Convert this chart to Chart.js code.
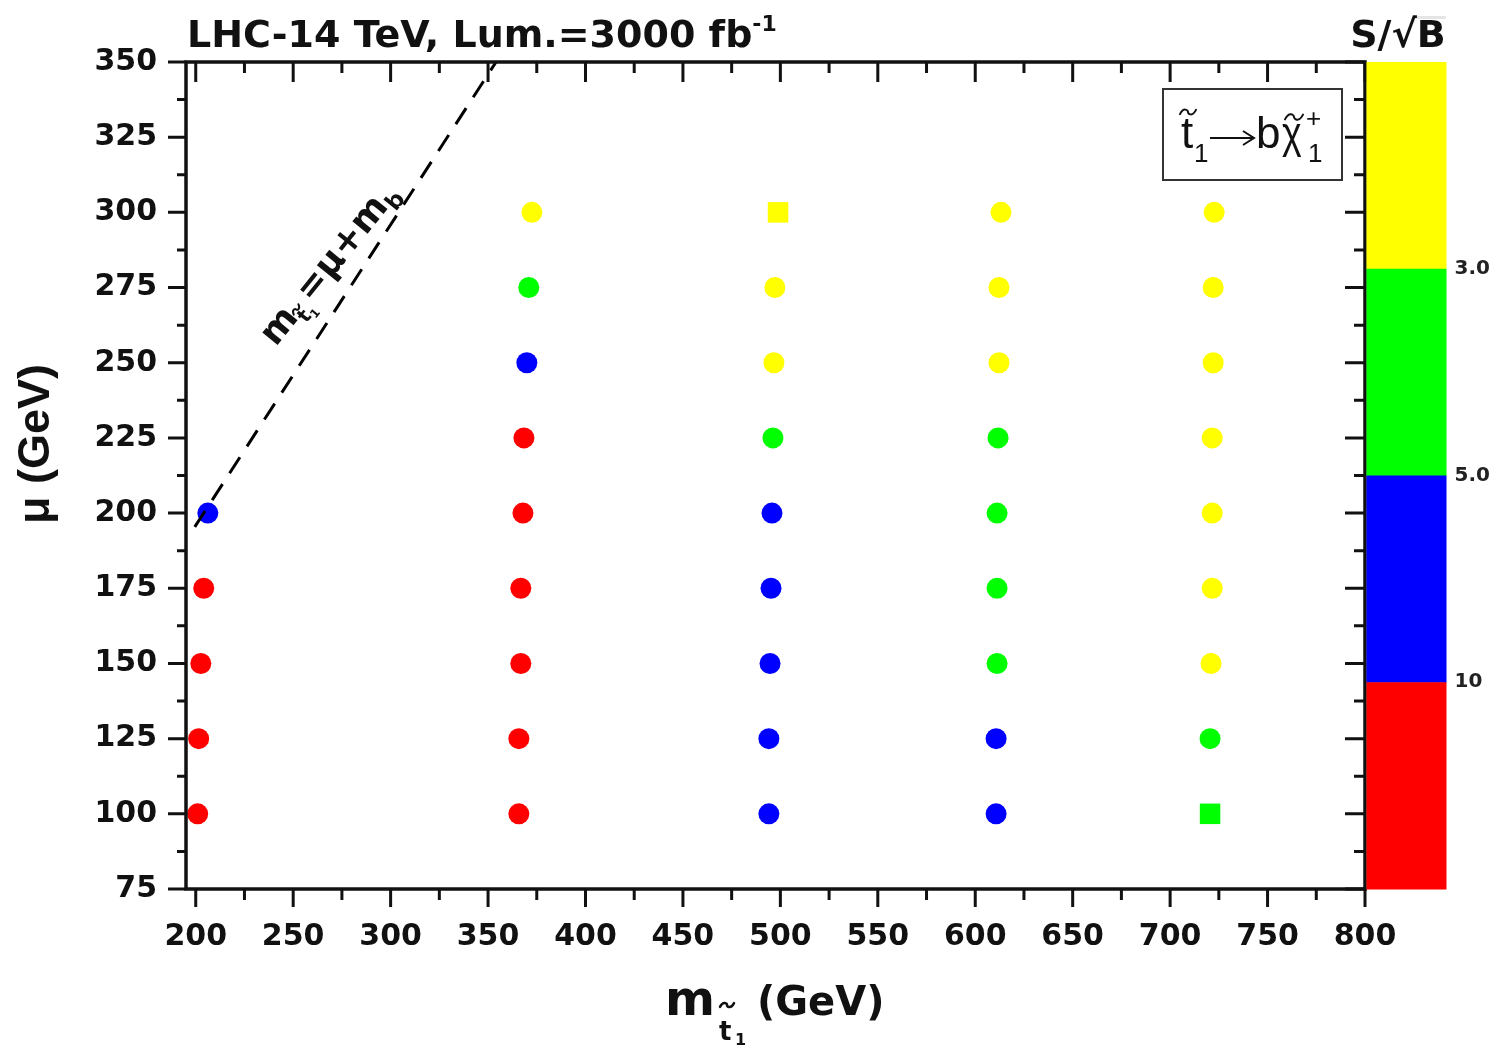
<!DOCTYPE html>
<html>
<head>
<meta charset="utf-8">
<script src="https://cdn.jsdelivr.net/npm/chart.js@4.4.1/dist/chart.umd.min.js"></script>
<style>
  html, body { margin: 0; padding: 0; background: #fff; }
  #wrap { width: 1503px; height: 1046px; }
</style>
</head>
<body>
<div id="wrap"><canvas id="chart" width="1503" height="1046"></canvas></div>
<script>
// ─── Data ───
const muValues = [100, 125, 150, 175, 200, 225, 250, 275, 300];
const stopMass1 = [201.0, 201.5, 202.6, 204.1, 206.2];
const stopMass2 = [365.8, 365.8, 366.8, 366.8, 367.9, 368.4, 369.9, 370.9, 372.5];
const stopMass3 = [494.1, 494.1, 494.7, 495.2, 495.7, 496.2, 496.7, 497.2, 498.8];
const stopMass4 = [610.7, 610.7, 611.2, 611.2, 611.2, 611.7, 612.2, 612.2, 613.2];
const stopMass5 = [720.5, 720.5, 721.0, 721.6, 721.6, 721.6, 722.1, 722.1, 722.6];

// S/sqrt(B) band per point: 0 = <3, 1 = 3-5, 2 = 5-10, 3 = >10
const sigBand1 = [3, 3, 3, 3, 2];
const sigBand2 = [3, 3, 3, 3, 3, 3, 2, 1, 0];
const sigBand3 = [2, 2, 2, 2, 2, 1, 0, 0, 0];
const sigBand4 = [2, 2, 1, 1, 1, 1, 0, 0, 0];
const sigBand5 = [1, 1, 0, 0, 0, 0, 0, 0, 0];

// points drawn as squares: [column, mu]
const squareMarks = [[3, 300], [5, 100]];

const bandColors = ['#ffff00', '#00ff00', '#0000ff', '#ff0000'];
const bandEdgeLabels = ['3.0', '5.0', '10'];

// kinematic limit m_stop = mu + m_b
const limitX = [199.5, 354.1];
const limitY = [195.4, 350];

const xTicks = [200, 250, 300, 350, 400, 450, 500, 550, 600, 650, 700, 750, 800];
const xMinor = [225, 275, 325, 375, 425, 475, 525, 575, 625, 675, 725, 775];
const yTicks = [75, 100, 125, 150, 175, 200, 225, 250, 275, 300, 325, 350];
const yMinor = [87.5, 112.5, 137.5, 162.5, 187.5, 212.5, 237.5, 262.5, 287.5, 312.5, 337.5];

// ─── Build datasets ───
const columns = [
    [stopMass1, sigBand1],
    [stopMass2, sigBand2],
    [stopMass3, sigBand3],
    [stopMass4, sigBand4],
    [stopMass5, sigBand5]
];

const bandSets = bandColors.map(c => ({ data: [], styles: [], color: c }));
columns.forEach(([masses, bands], ci) => {
    masses.forEach((m, i) => {
        const mu = muValues[i];
        const isSq = squareMarks.some(s => s[0] === ci + 1 && s[1] === mu);
        bandSets[bands[i]].data.push({ x: m, y: mu });
        bandSets[bands[i]].styles.push(isSq ? 'rect' : 'circle');
    });
});

const datasets = [{
    type: 'line',
    data: limitX.map((x, i) => ({ x, y: limitY[i] })),
    showLine: true,
    borderColor: '#000',
    borderWidth: 3,
    borderDash: [19, 13],
    pointRadius: 0,
    fill: false,
    clip: false,
    order: 0
}];
bandSets.forEach(b => {
    datasets.push({
        data: b.data,
        backgroundColor: b.color,
        borderWidth: 0,
        pointStyle: b.styles,
        pointRadius: b.styles.map(s => s === 'rect' ? 14.5 : 10.5),
        clip: false,
        order: 1
    });
});

// ─── helpers ───
const bold = s => 'bold ' + s + 'px "DejaVu Sans"';

// small wavy tilde accent, centred on (cx, cy)
function drawTilde(ctx, cx, cy, w, lw) {
    const h = w * 0.22;
    ctx.save();
    ctx.lineWidth = lw;
    ctx.lineCap = 'round';
    ctx.strokeStyle = ctx.fillStyle;
    ctx.beginPath();
    ctx.moveTo(cx - w / 2, cy + h * 0.6);
    ctx.bezierCurveTo(cx - w / 4, cy - h * 1.6, cx, cy - h * 0.4, cx, cy);
    ctx.bezierCurveTo(cx, cy + h * 0.4, cx + w / 4, cy + h * 1.6, cx + w / 2, cy - h * 0.6);
    ctx.stroke();
    ctx.restore();
}

function drawRuns(ctx, x, y, runs) {
    let cx = x;
    runs.forEach(r => {
        ctx.font = r.font;
        const w = ctx.measureText(r.t).width;
        ctx.fillText(r.t, cx, y + (r.dy || 0));
        if (r.tilde) drawTilde(ctx, cx + w / 2, y + (r.dy || 0) + r.tilde.dy, r.tilde.w, r.tilde.lw);
        cx += w + (r.gap || 0);
    });
    return cx - x;
}
function measureRuns(ctx, runs) {
    let w = 0;
    runs.forEach(r => { ctx.font = r.font; w += ctx.measureText(r.t).width + (r.gap || 0); });
    return w;
}

// ─── frame + ticks on all four sides ───
const framePlugin = {
    id: 'frame',
    afterDatasetsDraw(chart) {
        const { ctx, chartArea: a, scales: { x, y } } = chart;
        ctx.save();
        ctx.strokeStyle = '#111';
        ctx.lineWidth = 3;
        ctx.beginPath();
        xTicks.forEach(v => {
            const px = x.getPixelForValue(v);
            ctx.moveTo(px, a.bottom); ctx.lineTo(px, a.bottom + 18);
            ctx.moveTo(px, a.top); ctx.lineTo(px, a.top + 20);
        });
        xMinor.forEach(v => {
            const px = x.getPixelForValue(v);
            ctx.moveTo(px, a.bottom); ctx.lineTo(px, a.bottom + 11);
            ctx.moveTo(px, a.top); ctx.lineTo(px, a.top + 11);
        });
        yTicks.forEach(v => {
            const py = y.getPixelForValue(v);
            ctx.moveTo(a.left, py); ctx.lineTo(a.left - 18, py);
            ctx.moveTo(a.right, py); ctx.lineTo(a.right - 20, py);
        });
        yMinor.forEach(v => {
            const py = y.getPixelForValue(v);
            ctx.moveTo(a.left, py); ctx.lineTo(a.left - 9, py);
            ctx.moveTo(a.right, py); ctx.lineTo(a.right - 11, py);
        });
        ctx.stroke();
        ctx.lineWidth = 3.5;
        ctx.strokeRect(a.left, a.top, a.right - a.left, a.bottom - a.top);
        ctx.restore();
    }
};

// ─── colour bar ───
const colorbarPlugin = {
    id: 'colorbar',
    afterDraw(chart) {
        const { ctx, chartArea: a } = chart;
        const x0 = a.right + 1.5, w = 80;
        const h = (a.bottom - a.top) / bandColors.length;
        ctx.save();
        bandColors.forEach((c, i) => {
            ctx.fillStyle = c;
            ctx.fillRect(x0, a.top + i * h, w, h + 0.5);
        });
        ctx.fillStyle = '#222';
        ctx.font = bold(20);
        ctx.textBaseline = 'middle';
        bandEdgeLabels.forEach((t, i) => ctx.fillText(t, x0 + w + 8, a.top + (i + 1) * h));
        // title S/sqrt(B)
        ctx.fillStyle = '#111';
        ctx.textBaseline = 'alphabetic';
        ctx.font = bold(38);
        const s1 = 'S/\u221A', s2 = 'B';
        const w1 = ctx.measureText(s1).width, w2 = ctx.measureText(s2).width;
        const tx = 1398 - (w1 + w2) / 2;
        ctx.fillText(s1, tx, 47);
        ctx.fillText(s2, tx + w1, 47);
        ctx.lineWidth = 3;
        ctx.beginPath();
        ctx.moveTo(tx + w1 - 3, 17.5);
        ctx.lineTo(tx + w1 + w2, 17.5);
        ctx.stroke();
        ctx.restore();
    }
};

// ─── titles, legend box, line label ───
const textPlugin = {
    id: 'texts',
    afterDraw(chart) {
        const { ctx, scales: { x, y } } = chart;
        ctx.save();
        ctx.fillStyle = '#111';
        ctx.textBaseline = 'alphabetic';

        // top title
        drawRuns(ctx, 187, 47, [
            { t: 'LHC-14 TeV, Lum.=3000 fb', font: bold(38) },
            { t: '-1', font: bold(22), dy: -16 }
        ]);

        // x axis title
        ctx.font = bold(48);
        ctx.fillText('m', 665, 1015);
        ctx.font = bold(26);
        ctx.fillText('t', 719, 1040);
        drawTilde(ctx, 727, 1005, 14, 2.5);
        ctx.font = bold(16);
        ctx.fillText('1', 735, 1045);
        ctx.font = bold(40);
        ctx.fillText('(GeV)', 757, 1015);

        // y axis title
        ctx.save();
        ctx.translate(49, 524);
        ctx.rotate(-Math.PI / 2);
        ctx.font = 'bold 45px "Liberation Sans"';
        ctx.fillText('\u03BC (GeV)', 0, 0);
        ctx.restore();

        // legend box
        ctx.save();
        ctx.strokeStyle = '#333';
        ctx.lineWidth = 2;
        ctx.strokeRect(1163, 89, 179, 91);
        ctx.font = '44px "Liberation Sans"';
        ctx.fillText('t', 1181, 148);
        drawTilde(ctx, 1188, 112, 16, 2);
        ctx.font = '26px "Liberation Sans"';
        ctx.fillText('1', 1194, 162);
        ctx.lineWidth = 2;
        ctx.strokeStyle = '#111';
        ctx.beginPath();
        ctx.moveTo(1210, 138); ctx.lineTo(1253, 138);
        ctx.moveTo(1243, 131); ctx.lineTo(1254, 138); ctx.lineTo(1243, 145);
        ctx.stroke();
        ctx.font = '44px "Liberation Sans"';
        ctx.fillText('b', 1256, 148);
        ctx.save();
        ctx.translate(1282, 148);
        ctx.scale(0.85, 1);
        ctx.fillText('\u03C7', 0, 0);
        ctx.restore();
        drawTilde(ctx, 1294, 117, 18, 2);
        ctx.font = '26px "Liberation Sans"';
        ctx.fillText('+', 1306, 127);
        ctx.fillText('1', 1308, 162);
        ctx.restore();

        // label along the kinematic limit line
        const p0 = { x: x.getPixelForValue(limitX[0]), y: y.getPixelForValue(limitY[0]) };
        const p1 = { x: x.getPixelForValue(limitX[1]), y: y.getPixelForValue(limitY[1]) };
        const f = 0.52;
        const mx = p0.x + (p1.x - p0.x) * f, my = p0.y + (p1.y - p0.y) * f;
        const ang = -51 * Math.PI / 180;
        const runs = [
            { t: 'm', font: bold(36) },
            { t: 't', font: bold(20), dy: 9, tilde: { dy: -17, w: 11, lw: 2 } },
            { t: '1', font: bold(12), dy: 13, gap: 1 },
            { t: '=\u03BC+m', font: bold(36) },
            { t: 'b', font: bold(23), dy: 8 }
        ];
        const tw = measureRuns(ctx, runs);
        ctx.save();
        ctx.translate(mx - 23, my - 22);
        ctx.rotate(ang);
        drawRuns(ctx, -tw / 2, 12, runs);
        ctx.restore();

        ctx.restore();
    }
};

const tickFont = { family: 'DejaVu Sans', size: 30, weight: 'bold' };

new Chart(document.getElementById('chart').getContext('2d'), {
    type: 'scatter',
    data: { datasets },
    options: {
        responsive: false,
        animation: false,
        layout: { padding: { left: 0, right: 138, top: 62, bottom: 0 } },
        plugins: { legend: { display: false }, tooltip: { enabled: false } },
        scales: {
            x: {
                type: 'linear',
                min: 195,
                max: 800,
                afterBuildTicks: s => { s.ticks = xTicks.map(v => ({ value: v })); },
                afterFit: s => { s.height = 157; },
                grid: { display: false, drawTicks: false },
                border: { display: false },
                ticks: { padding: 30, font: tickFont, color: '#111', maxRotation: 0, autoSkip: false, callback: v => String(v) }
            },
            y: {
                type: 'linear',
                min: 75,
                max: 350,
                afterBuildTicks: s => { s.ticks = yTicks.map(v => ({ value: v })); },
                afterFit: s => { s.width = 186; },
                grid: { display: false, drawTicks: false },
                border: { display: false },
                ticks: { padding: 29, font: tickFont, color: '#111', autoSkip: false, callback: v => String(v) }
            }
        }
    },
    plugins: [framePlugin, colorbarPlugin, textPlugin]
});
</script>
</body>
</html>
